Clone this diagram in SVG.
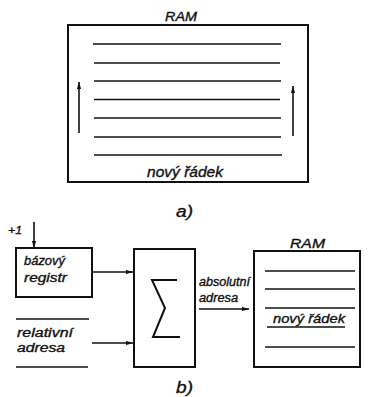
<svg xmlns="http://www.w3.org/2000/svg" width="368" height="397" viewBox="0 0 368 397">
<style>
.b{fill:none;stroke:#111;stroke-width:2}
.l{fill:none;stroke:#111;stroke-width:1.6}
.t{font-family:"Liberation Sans",Arial,sans-serif;font-style:italic;fill:#111;stroke:#111;stroke-width:0.35}
</style>
<defs>
<marker id="ah" viewBox="0 0 10 6" refX="10" refY="3" markerWidth="7" markerHeight="4.2" orient="auto" markerUnits="userSpaceOnUse">
<path d="M0,0 L10,3 L0,6 Z" fill="#111"/>
</marker>
</defs>
<rect width="368" height="397" fill="#fff"/>

<g id="ram-a">
<text class="t" x="181" y="21" font-size="13.5" text-anchor="middle" textLength="32" lengthAdjust="spacingAndGlyphs">RAM</text>
<rect class="b" x="68" y="25" width="240" height="157"/>
<g class="l">
<line x1="93" y1="44" x2="281" y2="44"/>
<line x1="94" y1="63" x2="280" y2="63"/>
<line x1="94" y1="81" x2="281" y2="81"/>
<line x1="94" y1="99.5" x2="280" y2="99.5"/>
<line x1="94" y1="118" x2="281" y2="118"/>
<line x1="94" y1="137" x2="281" y2="137"/>
<line x1="94" y1="155" x2="282" y2="155"/>
</g>
<text class="t" x="147" y="177" font-size="14.5" textLength="76" lengthAdjust="spacingAndGlyphs">nový řádek</text>
</g>

<g id="connectors">
<line class="l" x1="79" y1="133" x2="79" y2="82" marker-end="url(#ah)"/>
<line class="l" x1="293" y1="136" x2="293" y2="86" marker-end="url(#ah)"/>
<line class="l" x1="34" y1="222" x2="34" y2="248" marker-end="url(#ah)"/>
<line class="l" x1="92" y1="272" x2="133" y2="272" marker-end="url(#ah)"/>
<line class="l" x1="92" y1="343" x2="133" y2="343" marker-end="url(#ah)"/>
<line class="l" x1="199" y1="309" x2="249" y2="309" marker-end="url(#ah)"/>
</g>

<text class="t" x="176" y="217" font-size="16" textLength="17" lengthAdjust="spacingAndGlyphs">a)</text>

<text class="t" x="8" y="234" font-size="11.5" textLength="14" lengthAdjust="spacingAndGlyphs">+1</text>

<g id="bazovy-registr">
<rect class="b" x="16" y="248" width="76" height="49"/>
<text class="t" x="24" y="265" font-size="13" textLength="41" lengthAdjust="spacingAndGlyphs">bázový</text>
<text class="t" x="24" y="282" font-size="13" textLength="43" lengthAdjust="spacingAndGlyphs">registr</text>
</g>

<g id="relativni-adresa">
<line class="l" x1="16" y1="319" x2="89" y2="319"/>
<line class="l" x1="16" y1="367" x2="88" y2="367"/>
<text class="t" x="17" y="337" font-size="12.5" textLength="56" lengthAdjust="spacingAndGlyphs">relativní</text>
<text class="t" x="17" y="352" font-size="12.5" textLength="48" lengthAdjust="spacingAndGlyphs">adresa</text>
</g>

<g id="sum">
<rect class="b" x="134" y="249" width="61" height="118"/>
<path class="b" d="M177,280 L152,280 L165,308 L153,337 L180,337"/>
</g>

<text class="t" x="199" y="286" font-size="12" textLength="51" lengthAdjust="spacingAndGlyphs">absolutní</text>
<text class="t" x="199" y="302" font-size="12" textLength="39" lengthAdjust="spacingAndGlyphs">adresa</text>

<g id="ram-b">
<text class="t" x="290" y="248" font-size="13.5" textLength="35" lengthAdjust="spacingAndGlyphs">RAM</text>
<rect class="b" x="254" y="251" width="106" height="116"/>
<g class="l">
<line x1="265" y1="271" x2="355" y2="271"/>
<line x1="265" y1="289" x2="355" y2="289"/>
<line x1="265" y1="308" x2="355" y2="308"/>
<line x1="267" y1="327" x2="345" y2="327"/>
<line x1="265" y1="347" x2="355" y2="347"/>
</g>
<text class="t" x="273" y="323" font-size="13.5" textLength="72" lengthAdjust="spacingAndGlyphs">nový řádek</text>
</g>

<text class="t" x="176" y="393" font-size="16" textLength="17" lengthAdjust="spacingAndGlyphs">b)</text>
</svg>
